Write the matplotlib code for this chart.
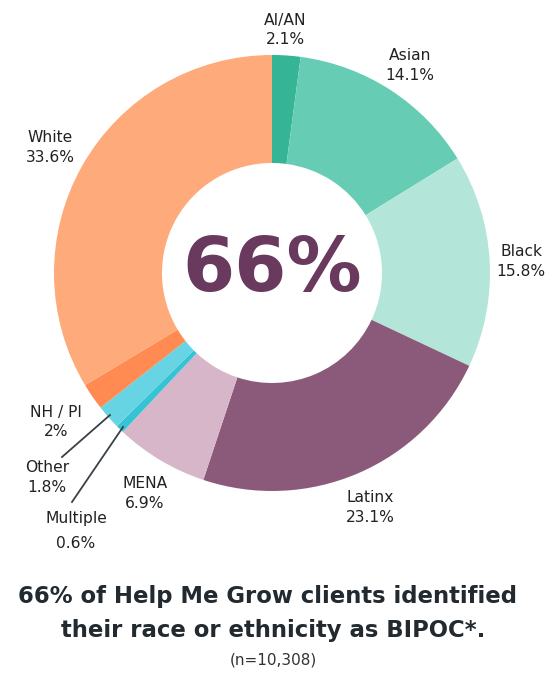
import matplotlib
matplotlib.use("Agg")
import matplotlib.pyplot as plt

plt.rcParams["font.family"] = ["DejaVu Sans"]

# ---------- Data ----------
groups = ["AI/AN", "Asian", "Black", "Latinx", "MENA", "Multiple", "Other", "NH / PI", "White"]
shares = [2.1, 14.1, 15.8, 23.1, 6.9, 0.6, 1.8, 2.0, 33.6]
share_labels = ["2.1%", "14.1%", "15.8%", "23.1%", "6.9%", "0.6%", "1.8%", "2%", "33.6%"]
colors = ["#35b595", "#66cdb4", "#b3e6d9", "#8b5a7b", "#d8b6c9",
          "#36c3d4", "#66d4e3", "#ff8b52", "#ffaa7a"]

# label anchor points (pixel space, y measured from top)
label_pos = {
    "AI/AN": (285, 20),
    "Asian": (410, 55),
    "Black": (521, 251),
    "Latinx": (370, 497),
    "MENA": (145, 483),
    "Multiple": (76, 518),
    "Other": (47, 468),
    "NH / PI": (56, 412),
    "White": (50, 138),
}

W, H = 546, 673
fig = plt.figure(figsize=(W / 100, H / 100), dpi=100)
ax = fig.add_axes([0, 0, 1, 1])

cx, cy = 272, H - 273
ax.pie(shares, colors=colors, startangle=90, counterclock=False,
       radius=218, center=(cx, cy),
       wedgeprops=dict(width=108, linewidth=0))
ax.set_xlim(0, W)
ax.set_ylim(0, H)
ax.set_aspect("equal")
ax.axis("off")

txt = "#222222"
for g, s in zip(groups, share_labels):
    x, y = label_pos[g]
    gap = 26 if g == "Multiple" else 20
    ax.text(x, H - y, g, ha="center", va="center", fontsize=11.2, color=txt)
    ax.text(x, H - y - gap, s, ha="center", va="center", fontsize=11.2, color=txt)

# leader lines for the thin slices
ax.plot([110, 62], [H - 415, H - 457], color="#3a4048", lw=1.3)
ax.plot([123, 72], [H - 427, H - 502], color="#3a4048", lw=1.3)

ax.text(cx, cy + 2, "66%", ha="center", va="center", fontsize=54,
        fontweight="bold", color="#6a3a5e")

ax.text(W / 2 - 6, H - 597, "66% of Help Me Grow clients identified", ha="center",
        va="center", fontsize=16.4, fontweight="bold", color="#222a30")
ax.text(W / 2, H - 630, "their race or ethnicity as BIPOC*.", ha="center",
        va="center", fontsize=16.4, fontweight="bold", color="#222a30")
ax.text(W / 2, H - 660, "(n=10,308)", ha="center", va="center",
        fontsize=11, color="#333333")

fig.savefig("out.png", dpi=100)
